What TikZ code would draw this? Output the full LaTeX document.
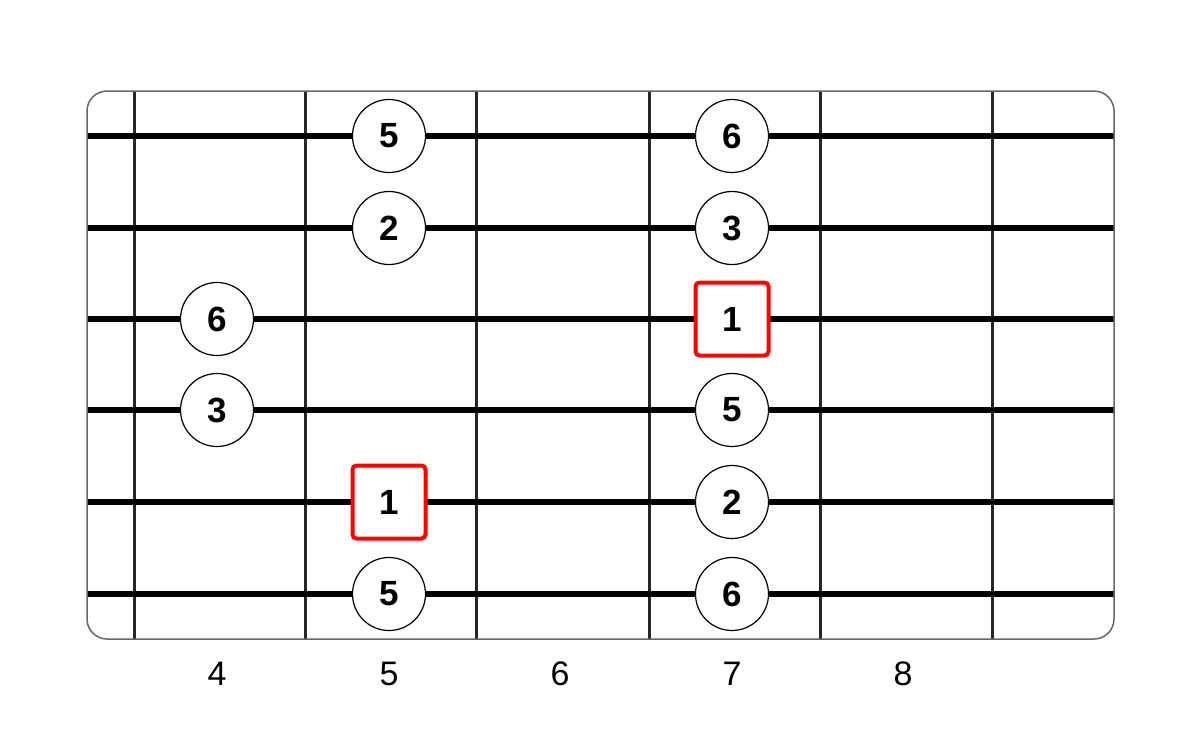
\documentclass[tikz,border=0pt]{standalone}
\usepackage{fontspec}
\setmainfont{Liberation Sans}
\begin{document}
\begin{tikzpicture}[x=1pt,y=-1pt,
  stringline/.style={line width=6pt,black},
  fretline/.style={line width=3pt,black!85},
  notec/.style={circle,draw=black,line width=1.2pt,fill=white,minimum size=73pt,inner sep=0pt,font=\fontsize{35}{35}\selectfont\bfseries},
  rootsq/.style={rectangle,rounded corners=4pt,draw=red,line width=4pt,fill=white,minimum size=73pt,inner sep=0pt,font=\fontsize{35}{35}\selectfont\bfseries},
  fretlab/.style={font=\fontsize{34}{34}\selectfont}]
\useasboundingbox (0,0) rectangle (1200,729);
\fill[white] (0,0) rectangle (1200,729);
% board
\begin{scope}
\clip[rounded corners=20pt] (87,91) rectangle (1114,639);
\foreach \x in {134,305,476,649,820,992} \draw[fretline] (\x,91) -- (\x,639);
\foreach \y in {136,228,319,410,502,594} \draw[stringline] (87,\y) -- (1114,\y);
\end{scope}
\node[draw=black!60,line width=1.5pt,rounded corners=20pt,minimum width=1027pt,minimum height=548pt,inner sep=0pt] (board) at (600.5,365) {};
% notes
\node[notec] (n1) at (389,136) {5};
\node[notec] (n2) at (732,136) {6};
\node[notec] (n3) at (389,228) {2};
\node[notec] (n4) at (732,228) {3};
\node[notec] (n5) at (217,319) {6};
\node[rootsq] (n6) at (732,319) {1};
\node[notec] (n7) at (217,410) {3};
\node[notec] (n8) at (732,410) {5};
\node[rootsq] (n9) at (389,502) {1};
\node[notec] (n10) at (732,502) {2};
\node[notec] (n11) at (389,594) {5};
\node[notec] (n12) at (732,594) {6};
% fret labels
\node[fretlab] (f4) at (217,674) {4};
\node[fretlab] (f5) at (389,674) {5};
\node[fretlab] (f6) at (560,674) {6};
\node[fretlab] (f7) at (732,674) {7};
\node[fretlab] (f8) at (903,674) {8};
\end{tikzpicture}
\end{document}
